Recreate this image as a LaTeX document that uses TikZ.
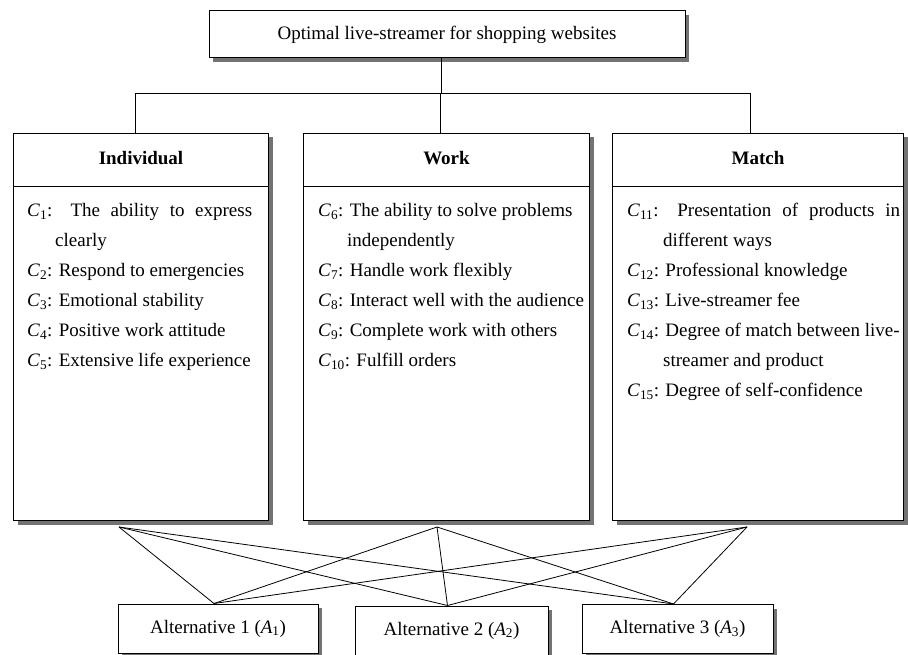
\documentclass[tikz,border=0pt]{standalone}
\usepackage{fontspec}
\setmainfont{Liberation Serif}
\usetikzlibrary{shadows}

\newcommand{\figfont}{\fontsize{19}{30}\selectfont}
\newcommand{\critC}[1]{\textit{C}\textsubscript{#1}}
\newcommand{\altA}[1]{\textit{A}\textsubscript{#1}}

\tikzset{
  box/.style={draw, fill=white, line width=1pt, inner sep=0pt, font=\figfont,
    drop shadow={shadow xshift=4pt, shadow yshift=-4pt, fill=black!55, opacity=1}},
  head/.style={font=\figfont\bfseries},
  items/.style={font=\figfont, align=left, inner sep=0pt, anchor=north west},
  link/.style={line width=0.8pt}
}

\begin{document}
\begin{tikzpicture}[x=1pt,y=-1pt]
\useasboundingbox (0,0) rectangle (908,655);

% goal
\node[box, minimum width=476pt, minimum height=47pt] (goal) at (447,34.5) {Optimal live-streamer for shopping websites};

% criteria groups
\node[box, anchor=north west, minimum width=255pt, minimum height=387pt] (ind) at (13,133) {};
\node[box, anchor=north west, minimum width=286pt, minimum height=387pt] (work) at (303,133) {};
\node[box, anchor=north west, minimum width=291pt, minimum height=387pt] (match) at (612,133) {};

\draw[line width=1pt] ([yshift=-54pt]ind.north west) -- ([yshift=-54pt]ind.north east);
\draw[line width=1pt] ([yshift=-54pt]work.north west) -- ([yshift=-54pt]work.north east);
\draw[line width=1pt] ([yshift=-54pt]match.north west) -- ([yshift=-54pt]match.north east);

\node[head] (indhead) at ([yshift=-25pt]ind.north) {Individual};
\node[head] (workhead) at ([yshift=-25pt]work.north) {Work};
\node[head] (matchhead) at ([yshift=-25pt]match.north) {Match};

\node[items] (indlist) at (27,203) {\makebox[225pt][s]{\critC{1}: The ability to express}\\
\hspace*{28pt}clearly\\
\critC{2}: Respond to emergencies\\
\critC{3}: Emotional stability\\
\critC{4}: Positive work attitude\\
\critC{5}: Extensive life experience};

\node[items] (worklist) at (318,203) {\critC{6}: The ability to solve problems\\
\hspace*{29pt}independently\\
\critC{7}: Handle work flexibly\\
\critC{8}: Interact well with the audience\\
\critC{9}: Complete work with others\\
\critC{10}: Fulfill orders};

\node[items] (matchlist) at (627,203) {\makebox[273pt][s]{\critC{11}: Presentation of products in}\\
\hspace*{36pt}different ways\\
\critC{12}: Professional knowledge\\
\critC{13}: Live-streamer fee\\
\critC{14}: Degree of match between live-\\
\hspace*{36pt}streamer and product\\
\critC{15}: Degree of self-confidence};

% alternatives
\node[box, minimum width=200pt, minimum height=49pt] (a1) at (218,628.5) {Alternative 1 (\altA{1})};
\node[box, minimum width=193pt, minimum height=49pt] (a2) at (451.5,630.5) {Alternative 2 (\altA{2})};
\node[box, minimum width=191pt, minimum height=49pt] (a3) at (677.5,629) {Alternative 3 (\altA{3})};

% tree
\coordinate (bus) at (0,93);
\draw[link] ([xshift=-6pt]goal.south) -- ([xshift=-6pt]goal.south |- bus);
\draw[link] ([xshift=-6pt]ind.north) -- ([xshift=-6pt]ind.north |- bus) -- ([xshift=-8pt]match.north |- bus) -- ([xshift=-8pt]match.north);
\draw[link] ([xshift=-6pt]work.north) -- ([xshift=-6pt]work.north |- bus);

% fan to alternatives
\coordinate (f1) at (119,527);
\coordinate (f2) at (437,527);
\coordinate (f3) at (747,527);
\foreach \f in {f1,f2,f3}
  \foreach \a in {a1,a2,a3}
    \draw[link] (\f) -- ([xshift=-4pt]\a.north);
\end{tikzpicture}
\end{document}
